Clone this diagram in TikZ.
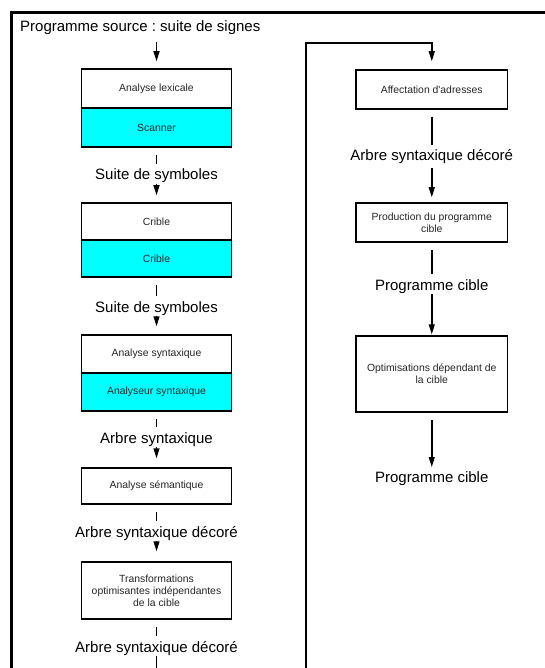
\documentclass[tikz,border=0pt]{standalone}
\usepackage{fontspec}
\setmainfont{Liberation Sans}
\usetikzlibrary{arrows.meta}
\definecolor{cyanfill}{RGB}{0,255,255}
\frenchspacing
\begin{document}
\begin{tikzpicture}[x=1pt,y=-1pt,
  box/.style={draw=black, line width=1.5pt, minimum width=150pt, inner sep=0pt,
    font=\fontsize{10.4}{12}\selectfont, text=black!85, align=center},
  rbox/.style={box, minimum width=151.5pt},
  cbox/.style={box, fill=cyanfill},
  lab/.style={inner sep=0pt, text height=10.8pt, text depth=3.5pt,
    font=\fontsize{15}{18}\selectfont},
  conn/.style={line width=1.5pt},
  arr/.style={conn, -{Triangle[length=10pt,width=6pt]}},
  tick/.style={conn, shorten <=7pt, shorten >=5pt},
]
\useasboundingbox (0,0) rectangle (545,668);
\clip (0,0) rectangle (545,668);
\fill[white] (0,0) rectangle (545,668);

% outer frame
\draw[line width=3pt] (11.7,700) -- (11.7,12.5) -- (560,12.5);

% title
\node[inner sep=0pt, anchor=base west, font=\fontsize{15}{18}\selectfont] (title) at (20,32)
  {Programme source : suite de signes};

% left column
\node[box, minimum height=39pt] (lexA) at (156.5,88.5) {Analyse lexicale};
\node[cbox, minimum height=39pt] (lexB) at (156.5,127.5) {Scanner};
\node[box, minimum height=37pt] (cribA) at (156.5,221.5) {Crible};
\node[cbox, minimum height=37pt] (cribB) at (156.5,258.5) {Crible};
\node[box, minimum height=38pt] (synA) at (156.5,354) {Analyse syntaxique};
\node[cbox, minimum height=38pt] (synB) at (156.5,392) {Analyseur syntaxique};
\node[box, minimum height=36pt] (sem) at (156.5,486) {Analyse sémantique};
\node[box, minimum height=57pt] (trans) at (156.5,590.5)
  {Transformations\\optimisantes indépendantes\\de la cible};

\node[lab, anchor=base] (l1) at (156.5,180) {Suite de symboles};
\node[lab, anchor=base] (l2) at (156.5,312) {Suite de symboles};
\node[lab, anchor=base] (l3) at (156.5,443) {Arbre syntaxique};
\node[lab, anchor=base] (l4) at (156.5,537) {Arbre syntaxique décoré};
\node[lab, anchor=base] (l5) at (156.5,652) {Arbre syntaxique décoré};
\coordinate (outL) at (156.5,700);

\draw[arr, shorten <=7pt, shorten >=7pt] (title.south -| lexA.north) -- (lexA.north);
\draw[tick] (lexB) -- (l1);
\draw[arr, shorten >=7pt] (l1) -- (cribA);
\draw[tick] (cribB) -- (l2);
\draw[arr, shorten >=8pt] (l2) -- (synA);
\draw[tick] (synB) -- (l3);
\draw[arr, shorten >=9pt] (l3) -- (sem);
\draw[tick] (sem) -- (l4);
\draw[arr, shorten >=10pt] (l4) -- (trans);
\draw[tick] (trans) -- (l5);
\draw[conn] (l5) -- (outL);

% right column
\node[rbox, minimum height=39pt] (aff) at (431.75,89.5) {Affectation d\textquotesingle adresses};
\node[rbox, minimum height=39pt] (prod) at (431.75,222.5) {Production du programme\\cible};
\node[rbox, minimum height=76pt] (opt) at (431.75,374) {Optimisations dépendant de\\la cible};

\node[lab, anchor=base] (r1) at (431.75,161) {Arbre syntaxique décoré};
\node[lab, anchor=base] (r2) at (431.75,290) {Programme cible};
\node[lab, anchor=base] (r3) at (431.75,482) {Programme cible};

\coordinate (outR) at (306,700);
\coordinate (tA) at (306,43);
\coordinate (tB) at (aff.north |- tA);
\draw[arr, shorten >=8pt] (outR) -- (tA) -- (tB) -- (aff.north);

\draw[tick] (aff) -- (r1);
\draw[arr, shorten <=3pt, shorten >=5pt] (r1) -- (prod);
\draw[tick] (prod) -- (r2);
\draw[arr, shorten >=1pt] (r2) -- (opt);
\draw[arr, shorten <=7pt, shorten >=4pt] (opt) -- (r3);
\end{tikzpicture}
\end{document}
